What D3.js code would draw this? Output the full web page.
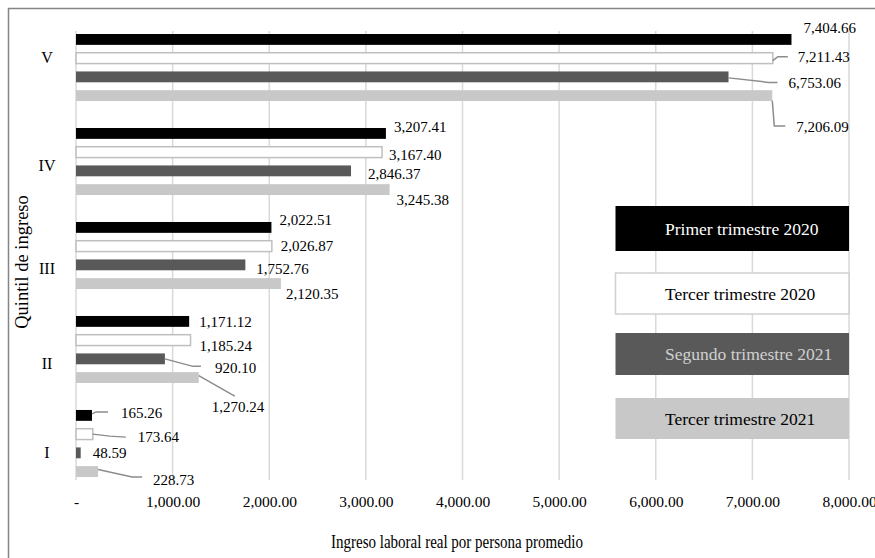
<!DOCTYPE html>
<meta charset="utf-8">
<script src="https://d3js.org/d3.v7.min.js"></script>
<style>
  body { margin: 0; background: #fff; }
  text { font-family: "Liberation Serif", "DejaVu Serif", serif; fill: #000; }
</style>
<div id="chart"></div>
<script>

// data
var quintiles = ["I", "II", "III", "IV", "V"];
var seriesNames = ["Primer trimestre 2020", "Tercer trimestre 2020", "Segundo trimestre 2021", "Tercer trimestre 2021"];
var primer2020 = [165.26, 1171.12, 2022.51, 3207.41, 7404.66];
var tercer2020 = [173.64, 1185.24, 2026.87, 3167.40, 7211.43];
var segundo2021 = [48.59, 920.10, 1752.76, 2846.37, 6753.06];
var tercer2021 = [228.73, 1270.24, 2120.35, 3245.38, 7206.09];
var xTicks = [0, 1000, 2000, 3000, 4000, 5000, 6000, 7000, 8000];

var seriesValues = [primer2020, tercer2020, segundo2021, tercer2021];

// styles
var fills = ["#000000", "#ffffff", "#595959", "#c8c8c8"];
var strokes = ["none", "#bfbfbf", "none", "none"];
var legendText = ["#ffffff", "#000000", "#d0d0d0", "#000000"];

// label offsets from bar end / bar centre (layout only), [series][quintile]
var labelPos = [
  [{dx:29, dy:-2.5, lead:[[0,-1.5],[4,-3.5],[16,-3.5]]}, {dx:10, dy:0.5}, {dx:8, dy:-7.5}, {dx:8, dy:-6.5}, {dx:12, dy:-11.5}],
  [{dx:45, dy:3, lead:[[0,0],[17,2],[33,3]]}, {dx:9, dy:6}, {dx:9, dy:0}, {dx:7, dy:3}, {dx:25, dy:-1.5, lead:[[0,2.5],[5,-1.5],[15,-1.5]]}],
  [{dx:12, dy:0}, {dx:50, dy:8.5, lead:[[0,0],[28,7.5],[36,7.5]]}, {dx:11, dy:3.5}, {dx:17, dy:3}, {dx:60, dy:5.5, lead:[[0,1],[40,5.5],[49,5.5]]}],
  [{dx:55, dy:8, lead:[[0,-2],[34,5.5],[44,5.5]]}, {dx:13, dy:29.5, lead:[[0,-2],[36,18.5]]}, {dx:5, dy:10.5}, {dx:7, dy:10}, {dx:24, dy:31.5, lead:[[0,5],[2,30.5],[13,30.5]]}]
];
var catLabelDy = [9, 13.5, 13, 3.5, -10];

var width = 875, height = 558;
var plot = {left: 76, right: 849, top: 31, bottom: 480};

var svg = d3.select("#chart").append("svg")
  .attr("width", width)
  .attr("height", height);

// outer border
svg.append("rect")
  .attr("x", 8.5).attr("y", 8.5)
  .attr("width", width).attr("height", height)
  .attr("fill", "#fff")
  .attr("stroke", "#858585")
  .attr("stroke-width", 1.5);

var x = d3.scaleLinear()
  .domain([0, 8000])
  .range([plot.left, plot.right]);

// V on top
var y = d3.scaleBand()
  .domain(quintiles.slice().reverse())
  .range([plot.top, plot.bottom])
  .paddingInner(0.287)
  .paddingOuter(0.032);

var ySub = d3.scaleBand()
  .domain(d3.range(seriesNames.length))
  .range([0, y.bandwidth()])
  .paddingInner(0.42);

// gridlines
svg.append("g")
  .selectAll("line")
  .data(xTicks)
  .join("line")
    .attr("x1", function(d) { return x(d); })
    .attr("x2", function(d) { return x(d); })
    .attr("y1", plot.top)
    .attr("y2", plot.bottom)
    .attr("stroke", "#d9d9d9")
    .attr("stroke-width", 1.5);

// x axis labels
var xAxis = svg.append("g")
  .attr("transform", "translate(0," + (plot.bottom + 13) + ")")
  .call(d3.axisBottom(x).tickValues(xTicks).tickSize(0)
    .tickFormat(function(d) { return d === 0 ? "-" : d3.format(",.2f")(d); }));
xAxis.select(".domain").remove();
xAxis.selectAll("text")
  .attr("font-size", 15.5)
  .attr("font-family", null)
  .attr("fill", "#000");

// category labels
svg.append("g")
  .selectAll("text")
  .data(quintiles)
  .join("text")
    .attr("x", 47)
    .attr("y", function(d, i) { return y(d) + y.bandwidth() / 2 + catLabelDy[i]; })
    .attr("dy", "0.35em")
    .attr("text-anchor", "middle")
    .attr("font-size", 16)
    .text(function(d) { return d; });

// bars
seriesValues.forEach(function(vals, s) {
  svg.append("g")
    .selectAll("rect")
    .data(vals)
    .join("rect")
      .attr("x", x(0))
      .attr("y", function(d, i) { return y(quintiles[i]) + ySub(s); })
      .attr("width", function(d) { return x(d) - x(0); })
      .attr("height", ySub.bandwidth())
      .attr("fill", fills[s])
      .attr("stroke", strokes[s])
      .attr("stroke-width", 1.5);
});

// data labels with leader lines
var fmt = d3.format(",.2f");
seriesValues.forEach(function(vals, s) {
  vals.forEach(function(v, i) {
    var bx = x(v);
    var by = y(quintiles[i]) + ySub(s) + ySub.bandwidth() / 2;
    var p = labelPos[s][i];
    if (p.lead) {
      svg.append("path")
        .attr("d", d3.line()(p.lead.map(function(q) { return [bx + q[0], by + q[1]]; })))
        .attr("fill", "none")
        .attr("stroke", "#8c8c8c")
        .attr("stroke-width", 1.5);
    }
    svg.append("text")
      .attr("x", bx + p.dx)
      .attr("y", by + p.dy)
      .attr("dy", "0.35em")
      .attr("font-size", 15)
      .text(fmt(v));
  });
});

// legend
var legTop = [206, 273, 333, 398];
var legH = [45, 41, 42, 41];
var leg = svg.append("g");
seriesNames.forEach(function(name, s) {
  leg.append("rect")
    .attr("x", 615.5)
    .attr("y", legTop[s])
    .attr("width", 233.5)
    .attr("height", legH[s])
    .attr("fill", fills[s])
    .attr("stroke", strokes[s] === "none" ? "none" : "#d0d0d0")
    .attr("stroke-width", 1.5);
  leg.append("text")
    .attr("x", 665)
    .attr("y", legTop[s] + legH[s] / 2)
    .attr("dy", "0.35em")
    .attr("font-size", 17.5)
    .style("fill", legendText[s])
    .text(name);
});

// axis titles
svg.append("text")
  .attr("x", 331)
  .attr("y", 541)
  .attr("dy", "0.35em")
  .attr("font-size", 19)
  .attr("textLength", 252)
  .attr("lengthAdjust", "spacingAndGlyphs")
  .text("Ingreso laboral real por persona promedio");

svg.append("text")
  .attr("transform", "translate(22,262) rotate(-90)")
  .attr("dy", "0.35em")
  .attr("text-anchor", "middle")
  .attr("font-size", 18.5)
  .text("Quintil de ingreso");

</script>
